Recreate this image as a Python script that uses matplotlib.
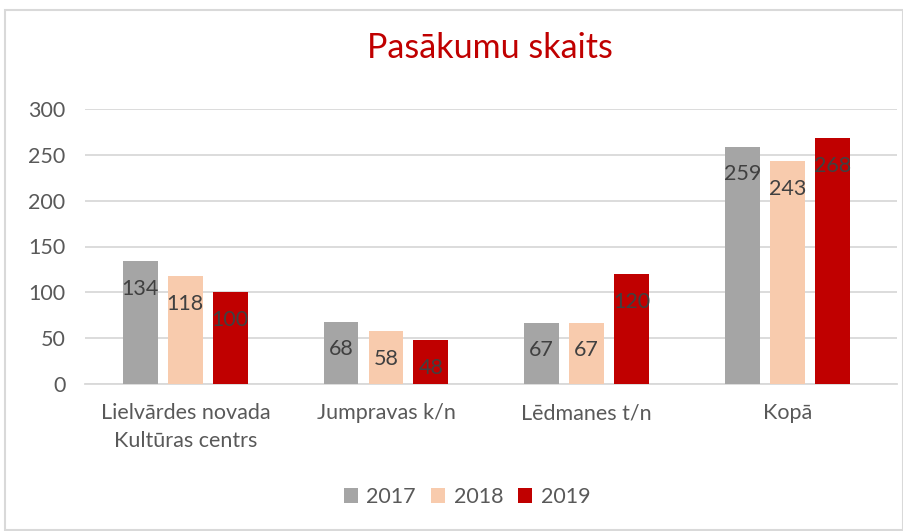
import numpy as np
import matplotlib.pyplot as plt
from matplotlib.patches import Rectangle

plt.rcParams['font.family'] = ['Lato', 'DejaVu Sans']

categories = ['Lielvārdes novada\nKultūras centrs', 'Jumpravas k/n', 'Lēdmanes t/n', 'Kopā']
years = ['2017', '2018', '2019']
v2017 = [134, 68, 67, 259]
v2018 = [118, 58, 67, 243]
v2019 = [100, 48, 120, 268]
colors = ['#A5A5A5', '#F8CBAD', '#C00000']

fig = plt.figure(figsize=(9.04, 5.31), dpi=100)
ax = fig.add_axes([85/904, 1-384/531, 812/904, 275/531])

x = np.arange(len(categories))
w = 0.174
step = 0.224
series = [v2017, v2018, v2019]
for i, (vals, c, yr) in enumerate(zip(series, colors, years)):
    pos = x + (i - 1) * step
    bars = ax.bar(pos, vals, width=w, color=c, label=yr, zorder=3)
    for b, v in zip(bars, vals):
        ax.annotate(str(v), (b.get_x() + b.get_width()/2, v), xytext=(0, -20),
                    textcoords='offset points', ha='center', va='center',
                    fontsize=15.5, color='#404040', zorder=4)

ax.set_xlim(-0.5, 3.547)
ax.set_ylim(0, 300)
ax.set_yticks(range(0, 301, 50))
ax.yaxis.grid(True, color='#D9D9D9', lw=1.3, zorder=0)
for s in ['top', 'right', 'left']:
    ax.spines[s].set_visible(False)
ax.spines['bottom'].set_color('#D9D9D9')
ax.spines['bottom'].set_linewidth(1.3)
ax.tick_params(length=0, labelsize=15.5, labelcolor='#595959')
ax.tick_params(axis='y', pad=14)
ax.tick_params(axis='x', pad=14)
ax.set_xticks(x)
ax.set_xticklabels(categories, linespacing=1.45)

fig.text(490/904, 1-48/531, 'Pasākumu skaits', ha='center', va='center',
         fontsize=24.5, color='#C00000')

fig.legend(loc='center', bbox_to_anchor=(467/904, 1-497/531), ncol=3, frameon=False,
           fontsize=15.5, labelcolor='#595959', handlelength=0.65, handleheight=0.65,
           columnspacing=0.7, handletextpad=0.4)

fig.patches.append(Rectangle((5/904, 1/531), 898/904, 520/531, transform=fig.transFigure,
                             fill=False, edgecolor='#D9D9D9', lw=1.5))

fig.savefig('out.png', dpi=100)
